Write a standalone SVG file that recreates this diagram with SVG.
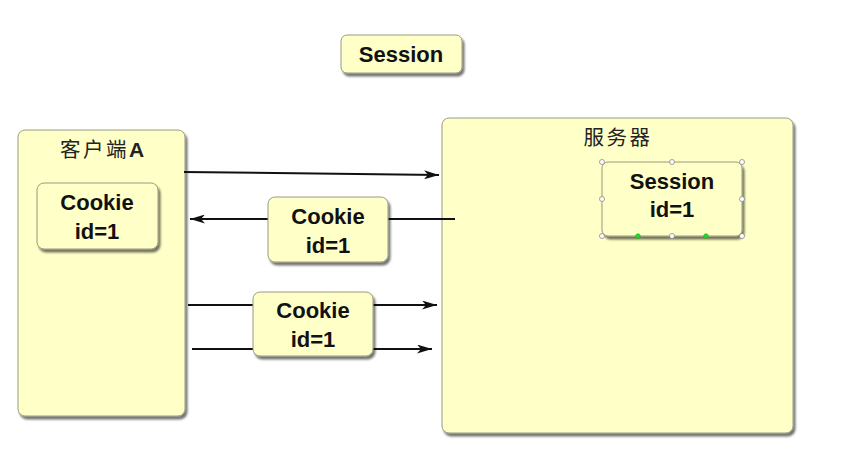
<svg xmlns="http://www.w3.org/2000/svg" width="860" height="464" viewBox="0 0 860 464">
<style>
.box{fill:#FFFFC8;stroke:#9a9a80;stroke-width:1;filter:url(#sh)}
.t{font-family:"Liberation Sans",Arial,sans-serif;font-weight:bold;font-size:22px;fill:#111;text-anchor:middle}
.cjk{font-family:"Noto Sans CJK SC","Noto Sans",sans-serif;font-size:20.5px;fill:#222;text-anchor:middle;letter-spacing:2.5px}
.ln{stroke:#111;stroke-width:2;fill:none;marker-end:url(#ah)}
.h{fill:#fff;stroke:#888;stroke-width:0.8}
.g{fill:#22dd22;stroke:#11aa11;stroke-width:0.5}
</style>
<defs>
<filter id="sh" x="-10%" y="-10%" width="130%" height="130%">
<feDropShadow dx="2" dy="3" stdDeviation="1.2" flood-color="#000" flood-opacity="0.55"/>
</filter>
<marker id="ah" viewBox="0 0 15 9" refX="15" refY="4.5" markerWidth="15" markerHeight="9" markerUnits="userSpaceOnUse" orient="auto">
<path d="M0,0 L15,4.5 L0,9 L4,4.5 Z" fill="#111"/>
</marker>
</defs>
<rect width="860" height="464" fill="#fff"/>
<g id="session-title">
<rect class="box" x="341" y="35" width="121" height="38" rx="6"/>
<text class="t" x="401" y="62">Session</text>
</g>
<g id="client">
<rect class="box" x="18" y="130" width="167" height="286" rx="7"/>
<text class="cjk" x="102" y="157"><tspan>客户端</tspan><tspan style="font-family:'Liberation Sans',Arial,sans-serif;font-weight:bold;font-size:21px;letter-spacing:0">A</tspan></text>
</g>
<g id="client-cookie">
<rect class="box" x="37" y="183" width="121" height="66" rx="7"/>
<text class="t" x="97" y="210">Cookie</text>
<text class="t" x="97" y="239">id=1</text>
</g>
<g id="server">
<rect class="box" x="442" y="118" width="351" height="315" rx="7"/>
<text class="cjk" x="618" y="145">服务器</text>
</g>
<g id="server-session">
<rect class="box" x="602" y="162" width="140" height="74" rx="6"/>
<text class="t" x="672" y="189">Session</text>
<text class="t" x="672" y="217">id=1</text>
<circle class="h" cx="602" cy="162" r="2.5"/>
<circle class="h" cx="672" cy="162" r="2.5"/>
<circle class="h" cx="742" cy="162" r="2.5"/>
<circle class="h" cx="602" cy="199" r="2.5"/>
<circle class="h" cx="742" cy="199" r="2.5"/>
<circle class="h" cx="602" cy="236" r="2.5"/>
<circle class="h" cx="672" cy="236" r="2.5"/>
<circle class="h" cx="742" cy="236" r="2.5"/>
<circle class="g" cx="638" cy="236" r="2.3"/>
<circle class="g" cx="706" cy="236" r="2.3"/>
</g>
<g id="connectors">
<line class="ln" x1="184" y1="172" x2="439" y2="175"/>
<line class="ln" x1="455" y1="219" x2="190" y2="219"/>
<line class="ln" x1="188" y1="305" x2="437" y2="305"/>
<line class="ln" x1="192" y1="349" x2="432" y2="349"/>
</g>
<g id="cookie-response">
<rect class="box" x="268" y="197" width="120" height="65" rx="7"/>
<text class="t" x="328" y="224">Cookie</text>
<text class="t" x="328" y="253">id=1</text>
</g>
<g id="cookie-request">
<rect class="box" x="253" y="292" width="120" height="64" rx="7"/>
<text class="t" x="313" y="318">Cookie</text>
<text class="t" x="313" y="347">id=1</text>
</g>
</svg>
